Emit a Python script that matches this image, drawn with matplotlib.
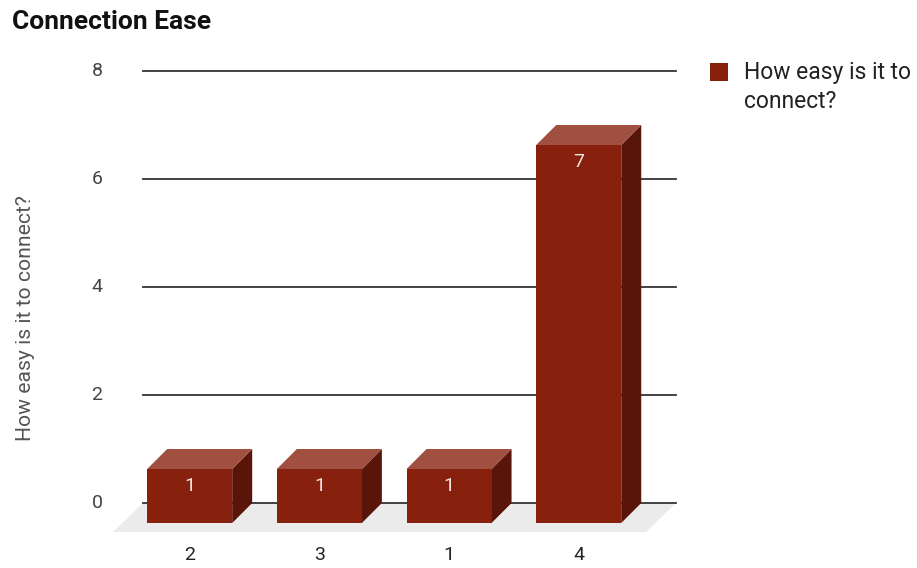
import matplotlib.pyplot as plt
from matplotlib.patches import Polygon, Rectangle

plt.rcParams['font.family'] = ['Roboto', 'DejaVu Sans']

# data
categories = ["2", "3", "1", "4"]
values = [1, 1, 1, 7]
y_ticks = [0, 2, 4, 6, 8]
series_name = ["How easy is it to", "connect?"]

front_c = "#88200e"
top_c = "#a04f41"
side_c = "#5a150a"

fig = plt.figure(figsize=(9.17, 5.68), dpi=100)
W, H = 917, 568
x0, x1 = -0.36, 3.75
y0, y1 = -0.6, 8.0
ax = fig.add_axes([143 / W, 1 - 535.4 / H, 533 / W, (535.4 - 71) / H])
ax.set_xlim(x0, x1)
ax.set_ylim(y0, y1)
ax.axis("off")

px_x = 533 / (x1 - x0)   # pixels per category unit
px_y = (535.4 - 71) / (y1 - y0)

# floor plane
fdx, fdy = 30 / px_x, 29 / px_y
floor = Polygon([(x0 - fdx, -fdy), (x1 - fdx, -fdy), (x1, 0), (x0, 0)],
                closed=True, facecolor="#ebebeb", edgecolor="none", zorder=1, clip_on=False)
ax.add_patch(floor)

# gridlines
for t in y_ticks:
    ax.plot([x0, x1], [t, t], color="#333333", lw=1.3, zorder=2, clip_on=False)
    ax.text(x0 - 46 / px_x, t, str(t), ha="center", va="center", fontsize=14, color="#444444")

# 3d bars
w = 85 / px_x
dx, dy = 20 / px_x, 20 / px_y
for i, v in enumerate(values):
    L, R = i - w / 2, i + w / 2
    b = -dy
    top = v - dy
    ax.add_patch(Polygon([(R, b), (R + dx, 0), (R + dx, v), (R, top)], closed=True,
                         facecolor=side_c, edgecolor="none", zorder=3))
    ax.add_patch(Polygon([(L, top), (R, top), (R + dx, v), (L + dx, v)], closed=True,
                         facecolor=top_c, edgecolor="none", zorder=3))
    ax.add_patch(Rectangle((L, b), w, v, facecolor=front_c, edgecolor="none", zorder=4))
    ax.text(i, top - 17 / px_y, str(v), ha="center", va="center", fontsize=14,
            color="#f2e4e0", zorder=5)
    ax.text(i, -52 / px_y, categories[i], ha="center", va="center", fontsize=14,
            color="#222222")

fig.text(26 / W, 1 - 318 / H, "How easy is it to connect?", rotation=90,
         ha="center", va="center", fontsize=15.2, color="#555555")
fig.text(12 / W, 1 - 22 / H, "Connection Ease", ha="left", va="center",
         fontsize=19, fontweight="bold", color="#111111")

# legend
fig.patches.append(Rectangle((710 / W, 1 - 81 / H), 18 / W, 18 / H, transform=fig.transFigure,
                             facecolor=front_c, edgecolor="none"))
for k, line in enumerate(series_name):
    fig.text(744 / W, 1 - (73 + 28 * k) / H, line, ha="left", va="center", fontsize=16.5,
             color="#222222")

plt.savefig("out.png", dpi=100)
